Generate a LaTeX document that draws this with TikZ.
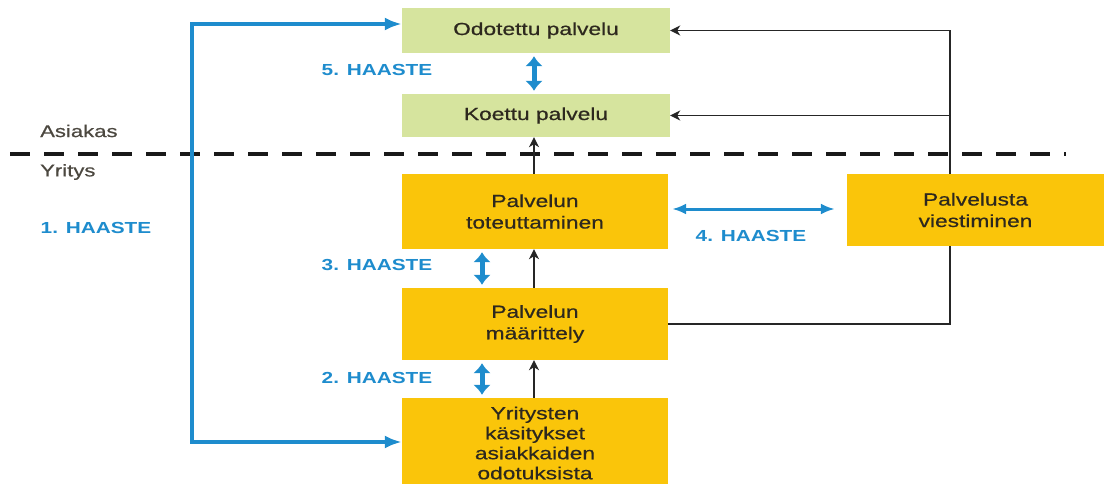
\documentclass[tikz,border=0pt]{standalone}
\usepackage{fontspec}
\setmainfont[FakeStretch=1.3]{Liberation Sans}
\newfontfamily\boxfont[FakeStretch=1.3, FakeBold=0.6]{Liberation Sans}
\usetikzlibrary{arrows.meta}
\definecolor{custgreen}{RGB}{214,228,158}
\definecolor{compyellow}{RGB}{250,197,10}
\definecolor{gapblue}{RGB}{30,140,205}
\definecolor{txt}{RGB}{45,40,30}
\tikzset{
  box/.style={inner sep=0pt, align=center, text=txt,
    font=\boxfont\fontsize{17.5}{21.5}\selectfont},
  custbox/.style={box, fill=custgreen},
  compbox/.style={box, fill=compyellow},
  gaplabel/.style={text=gapblue, inner sep=0pt,
    font=\bfseries\fontsize{16}{19}\selectfont},
  sidelabel/.style={text=txt!85, inner sep=0pt, anchor=west,
    font=\boxfont\fontsize{17}{20}\selectfont},
  flow/.style={black!85, line width=1.4pt, -{Stealth[length=10pt,width=10pt,inset=3pt]}},
  bigblue/.style={gapblue, line width=4pt, -{Latex[length=17pt,width=13pt]}},
  gap/.style={gapblue, line width=5pt, {Latex[length=10pt,width=18pt]}-{Latex[length=10pt,width=18pt]},
    shorten <=3pt, shorten >=3pt},
  gapwide/.style={gapblue, line width=3pt, {Latex[length=14pt,width=11pt]}-{Latex[length=14pt,width=11pt]}},
}
\begin{document}
\begin{tikzpicture}[x=1pt, y=-1pt]
\useasboundingbox (0,0) rectangle (1106,484);
\begin{scope}
\clip (0,0) rectangle (1106,484);

% boundary between customer and company
\draw[black!90, line width=3.5pt, dash pattern=on 20pt off 14pt] (10,154) -- (1066,154);
\node[sidelabel] (asiakas) at (40,131) {Asiakas};
\node[sidelabel] (yritys) at (40,172) {Yritys};

% customer side
\node[custbox, minimum width=268pt, minimum height=45pt] (odo) at (536,30.5) {Odotettu palvelu};
\node[custbox, minimum width=268pt, minimum height=43pt] (koe) at (536,115.5) {Koettu palvelu};

% company side
\node[compbox, minimum width=266pt, minimum height=75pt] (tot) at (535,211.5) {Palvelun\\toteuttaminen};
\node[compbox, minimum width=266pt, minimum height=90pt,
      font=\boxfont\fontsize{17.5}{20}\selectfont] (yri) at (535,443)
  {Yritysten\\käsitykset\\asiakkaiden\\odotuksista};
\node[compbox, minimum width=266pt, minimum height=72pt] (maa) at (535,324) {Palvelun\\määrittely};

% communication feedback lines (drawn below the communication box)
\coordinate (rtop) at (950,30.5);
\coordinate (rkoe) at (950,115.5);
\coordinate (rbot) at (950,324);
\draw[black!85, line width=1.4pt] (maa.east) -- (rbot) -- (rtop);
\draw[flow] (rtop) -- (odo.east);
\draw[flow] (rkoe) -- (koe.east);

\node[compbox, minimum width=257pt, minimum height=72pt] (vie) at (975.5,210) {Palvelusta\\viestiminen};

% main flow upwards
\draw[flow] (yri.north -| 534,0) -- (maa.south -| 534,0);
\draw[flow] (maa.north -| 534,0) -- (tot.south -| 534,0);
\draw[flow] (tot.north -| 534,0) -- (koe.south -| 534,0);

% gaps
\coordinate (b1top) at (192,24);
\coordinate (b1bot) at (192,442);
\draw[gapblue, line width=4pt] (b1top) -- (b1bot);
\draw[bigblue] ([xshift=-2pt]b1top) -- (odo.west |- b1top);
\draw[bigblue] ([xshift=-2pt]b1bot) -- (yri.west |- b1bot);
\node[gaplabel] (h1) at (96,228) {1. HAASTE};

\draw[gap] (odo.south -| 534,0) -- (koe.north -| 534,0);
\node[gaplabel] (h5) at (377,70) {5. HAASTE};

\draw[gap] (tot.south -| 482,0) -- (maa.north -| 482,0);
\node[gaplabel] (h3) at (377,265) {3. HAASTE};

\draw[gap] (maa.south -| 482,0) -- (yri.north -| 482,0);
\node[gaplabel] (h2) at (377,378) {2. HAASTE};

\draw[gapwide] ([xshift=4pt]tot.east |- 0,209) -- ([xshift=-12pt]vie.west |- 0,209);
\node[gaplabel] (h4) at (751,236) {4. HAASTE};
\end{scope}
\end{tikzpicture}
\end{document}
